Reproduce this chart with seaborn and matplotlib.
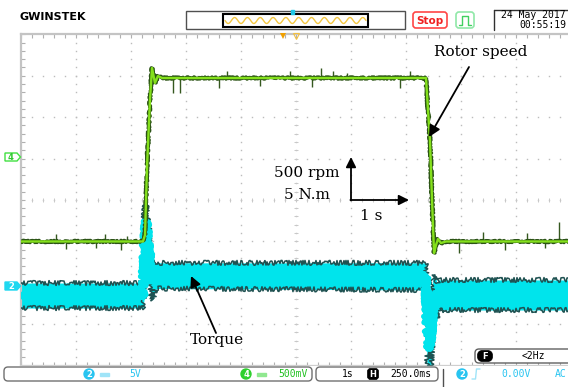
import numpy as np
import pandas as pd
import matplotlib
matplotlib.use("Agg")
import matplotlib.pyplot as plt
import seaborn as sns
from matplotlib.patches import FancyBboxPatch, Polygon, Rectangle, Circle

time_per_div = 1.0        # s/div, 10 divisions
speed_per_div = 500.0     # rpm/div (CH4)
torque_per_div = 5.0      # N.m/div (CH2)
ch4_offset_div = 5.04
ch2_offset_div = 1.92
trigger_time = 4.75
n_hdiv, n_vdiv = 10, 8

# CH4: rotor speed (rpm)
speed_t = [0.0, 2.218, 2.255, 2.291, 2.345, 2.382, 2.436, 2.49, 2.564,
           7.364, 7.40, 7.436, 7.473, 7.51, 7.545, 7.582, 7.636, 7.727, 10.0]
speed_rpm = [-1022, -1022, -944, -123, 686, 1073, 892, 976, 952,
             952, 566, 203, -521, -1161, -1065, -992, -1041, -1022, -1022]
# noise spikes on the speed trace (time, tip value)
spike_t = [0.636, 0.818, 1.364, 1.527, 1.818, 1.93,
           2.764, 2.891, 3.6, 3.745, 4.345, 4.89, 5.29, 5.455, 5.67, 5.93, 6.89, 7.07,
           7.96, 8.4, 8.8, 9.2, 9.53, 9.78]
spike_rpm = [-932, -1110, -1100, -932, -1120, -950,
             771, 771, 832, 1041, 855, 1041, 843, 1073, 1041, 1017, 832, 1041,
             -1160, -908, -1120, -920, -1100, -787]

# CH2: torque (N.m) noise band, upper and lower envelope
torque_t = [0.0, 2.218, 2.236, 2.273, 2.327, 2.364, 2.40, 2.436, 2.473, 2.527,
            7.364, 7.382, 7.418, 7.455, 7.491, 7.527, 7.564, 7.60, 7.655, 10.0]
torque_hi = [0.36, 0.36, 9.18, 10.03, 7.37, 3.75, 2.6, 2.7, 2.8, 2.8,
             2.8, -1.69, -5.31, -1.69, 0.97, 1.33, 0.36, 0.73, 0.73, 0.73]
torque_lo = [-2.66, -2.66, -1.69, 5.56, 1.93, -1.09, -1.69, -0.5, -0.3, -0.3,
             -0.48, -9.54, -9.9, -9.9, -5.92, -2.9, -3.86, -2.9, -2.9, -2.9]

# ---------------- figure ----------------
sns.set_theme(style="white")
plt.rcParams['font.family'] = ['DejaVu Sans']
W, H = 568, 387
fig = plt.figure(figsize=(W / 100, H / 100), dpi=100)
fig.patch.set_facecolor('white')

ax = fig.add_axes([21 / W, (H - 365.5) / H, 550 / W, 331.2 / H])
ax.set_xlim(0, n_hdiv)
ax.set_ylim(0, n_vdiv)
ax.set_facecolor('white')

# graticule
gcol = '#bcbcbc'
for xv in range(1, n_hdiv):
    ys = np.linspace(0, n_vdiv, n_vdiv * 5 + 1)
    ax.plot(np.full_like(ys, xv), ys, ls='none', marker='s', ms=1.0, mew=0, color=gcol, zorder=1)
for yv in range(1, n_vdiv):
    xs = np.linspace(0, n_hdiv, n_hdiv * 5 + 1)
    ax.plot(xs, np.full_like(xs, yv), ls='none', marker='s', ms=1.0, mew=0, color=gcol, zorder=1)
ys = np.linspace(0, n_vdiv, n_vdiv * 5 + 1)
ax.plot(np.full_like(ys, n_hdiv / 2), ys, ls='none', marker='_', ms=2.5, mew=0.7, color='#c8c8c8', zorder=1)
xs = np.linspace(0, n_hdiv, n_hdiv * 5 + 1)
ax.plot(xs, np.full_like(xs, n_vdiv / 2), ls='none', marker='|', ms=2.5, mew=0.7, color='#c8c8c8', zorder=1)

for s in ['left', 'top', 'bottom']:
    ax.spines[s].set_color('#c4c4c4')
    ax.spines[s].set_linewidth(1.6)
ax.spines['right'].set_visible(False)
ax.set_xticks(np.linspace(0, n_hdiv, n_hdiv * 5 + 1))
ax.set_yticks(np.linspace(0, n_vdiv, n_vdiv * 5 + 1))
ax.set_xticklabels([]); ax.set_yticklabels([])
ax.tick_params(axis='both', which='both', direction='in', length=3, width=0.8,
               color='#b0b0b0', top=True, bottom=True, left=True, right=False)

# torque band (CH2)
tq = pd.DataFrame({'t': torque_t,
                   'hi': ch2_offset_div + np.array(torque_hi) / torque_per_div,
                   'lo': ch2_offset_div + np.array(torque_lo) / torque_per_div})
ax.fill_between(tq['t'], tq['lo'], tq['hi'], color='#00e4ec', lw=0, zorder=2)
sns.lineplot(data=tq, x='t', y='hi', ax=ax, color='#1f5252', lw=1.1, estimator=None, sort=False, zorder=3)
ax.lines[-1].set_sketch_params(2.4, 1.0, 2)
sns.lineplot(data=tq, x='t', y='lo', ax=ax, color='#1f5252', lw=1.1, estimator=None, sort=False, zorder=3)
ax.lines[-1].set_sketch_params(2.4, 1.0, 2)
mid = (tq['hi'] + tq['lo']) / 2
sns.lineplot(x=tq['t'], y=mid, ax=ax, color='#00e4ec', lw=4, estimator=None, sort=False, zorder=3)
ax.lines[-1].set_sketch_params(3, 1.0, 2)

# speed trace (CH4)
sp = pd.DataFrame({'t': speed_t, 'div': ch4_offset_div + np.array(speed_rpm) / speed_per_div})
base = np.interp(spike_t, speed_t, sp['div'])
tip = ch4_offset_div + np.array(spike_rpm) / speed_per_div
ax.vlines(spike_t, base, tip, colors='#35581f', lw=1.0, zorder=4)
sns.lineplot(data=sp, x='t', y='div', ax=ax, color='#2c5416', lw=2.6, estimator=None, sort=False, zorder=4)
ax.lines[-1].set_sketch_params(1.0, 1.5, 2)
sns.lineplot(data=sp, x='t', y='div', ax=ax, color='#84e01c', lw=1.7, estimator=None, sort=False, zorder=5)
ax.set_xlabel(''); ax.set_ylabel('')

# ---------------- overlay in pixel coords ----------------
ov = fig.add_axes([0, 0, 1, 1])
ov.set_xlim(0, W); ov.set_ylim(H, 0)
ov.axis('off'); ov.patch.set_alpha(0); ov.set_zorder(5)
mono = 'DejaVu Sans Mono'

# top bar
ov.text(20, 17.5, 'GWINSTEK', fontsize=8, fontweight='bold', color='black', ha='left', va='center')
ov.add_patch(Rectangle((186, 11), 219, 18, ec='#505050', fc='white', lw=1))
ov.add_patch(Rectangle((223, 13.5), 145, 13.5, ec='black', fc='white', lw=1.5))
wx = np.linspace(225, 366, 400)
ov.plot(wx, 20.5 + 3 * np.sin(2 * np.pi * 11 * (wx - 225) / 141), color='#f3c640', lw=1)
ov.add_patch(Rectangle((290.5, 9.5), 3, 4, color='#20c8e8'))
ov.add_patch(FancyBboxPatch((413, 12), 34, 16, boxstyle='round,pad=0,rounding_size=3',
                            ec='#ff4646', fc='white', lw=1.2))
ov.text(430, 20.5, 'Stop', color='#f02020', fontsize=7.5, fontweight='bold', ha='center', va='center')
ov.add_patch(FancyBboxPatch((456, 12), 18, 16, boxstyle='round,pad=0,rounding_size=3',
                            ec='#90e8a8', fc='white', lw=1.2))
ov.plot([459, 462, 462, 468, 468, 471], [25, 25, 16, 16, 25, 25], color='#40d060', lw=1)
ov.plot([494, 494], [30, 10], color='#303030', lw=1)
ov.plot([494, 568], [10, 10], color='#303030', lw=1)
ov.text(566, 15.5, '24 May 2017', family=mono, fontsize=7, ha='right', va='center', color='black')
ov.text(566, 25.5, '00:55:19', family=mono, fontsize=7, ha='right', va='center', color='black')

# trigger / H position markers
ov.plot(283, 36, marker='v', ms=5, color='#f0a000', mew=0)
ov.plot(296, 36, marker='v', ms=5, mfc='none', mec='#f3c040', mew=0.8)

# channel markers on the left
ov.add_patch(Polygon([(5, 153), (17, 153), (20.5, 157), (17, 161), (5, 161)], closed=True,
                     ec='#40e040', fc='white', lw=1))
ov.text(11, 157.3, '4', color='#30c830', fontsize=6, fontweight='bold', ha='center', va='center')
ov.add_patch(Polygon([(5, 282), (17, 282), (20.5, 286), (17, 290), (5, 290)], closed=True,
                     ec='#20d8f0', fc='#20d8f0', lw=1))
ov.text(11, 286.3, '2', color='white', fontsize=6, fontweight='bold', ha='center', va='center')

# annotations
serif = 'DejaVu Serif'
ov.text(481, 52, 'Rotor speed', family=serif, fontsize=11, ha='center', va='center', color='black')
ov.annotate('', xy=(429, 137), xytext=(469, 67),
            arrowprops=dict(arrowstyle='-|>', color='black', lw=1.3, mutation_scale=17, shrinkA=0, shrinkB=0))
ov.text(217, 340, 'Torque', family=serif, fontsize=11, ha='center', va='center', color='black')
ov.annotate('', xy=(191, 276), xytext=(216, 333),
            arrowprops=dict(arrowstyle='-|>', color='black', lw=1.3, mutation_scale=16, shrinkA=0, shrinkB=0))
ov.text(340, 173, '500 rpm', family=serif, fontsize=11, ha='right', va='center', color='black')
ov.text(307, 195, '5 N.m', family=serif, fontsize=11, ha='center', va='center', color='black')
ov.text(371, 216, '1 s', family=serif, fontsize=11, ha='center', va='center', color='black')
ov.annotate('', xy=(351, 157), xytext=(351, 200.5),
            arrowprops=dict(arrowstyle='-|>', color='black', lw=1.3, mutation_scale=15, shrinkA=0, shrinkB=0))
ov.annotate('', xy=(409, 200), xytext=(350.4, 200),
            arrowprops=dict(arrowstyle='-|>', color='black', lw=1.3, mutation_scale=15, shrinkA=0, shrinkB=0))

# filter box
ov.add_patch(FancyBboxPatch((475, 349), 100, 14, boxstyle='round,pad=0,rounding_size=4',
                            ec='#606060', fc='white', lw=1))
ov.add_patch(FancyBboxPatch((477.5, 350.5), 15, 11, boxstyle='round,pad=0,rounding_size=5',
                            ec='black', fc='black', lw=0.5))
ov.text(485, 356.3, 'F', color='white', fontsize=6, fontweight='bold', ha='center', va='center')
ov.text(533, 356, '<2Hz', family=mono, fontsize=7, ha='center', va='center', color='black')

# bottom bar
ov.add_patch(Rectangle((0, 365.5), W, H - 365.5, color='white', zorder=0))
ov.add_patch(FancyBboxPatch((4, 367), 308, 14, boxstyle='round,pad=0,rounding_size=4',
                            ec='#707070', fc='white', lw=1))
ov.add_patch(FancyBboxPatch((316, 367), 122, 14, boxstyle='round,pad=0,rounding_size=4',
                            ec='#707070', fc='white', lw=1))
cy, gr = '#28c4f0', '#2ed02e'
ov.add_patch(Circle((89, 374), 5, color=cy))
ov.text(89, 374.3, '2', color='white', fontsize=6, fontweight='bold', ha='center', va='center')
ov.add_patch(Rectangle((100, 372.5), 9, 3, color='#a0e4f8'))
ov.text(135, 374, '5V', family=mono, fontsize=7, color=cy, ha='center', va='center')
ov.add_patch(Circle((246, 374), 5, color=gr))
ov.text(246, 374.3, '4', color='white', fontsize=6, fontweight='bold', ha='center', va='center')
ov.add_patch(Rectangle((257, 372.5), 9, 3, color='#90e890'))
ov.text(293, 374, '500mV', family=mono, fontsize=7, color='#20c020', ha='center', va='center')
ov.text(348, 374, '1s', family=mono, fontsize=7, color='black', ha='center', va='center')
ov.add_patch(FancyBboxPatch((367.5, 368.5), 11, 11, boxstyle='round,pad=0,rounding_size=3',
                            ec='black', fc='black', lw=0.5))
ov.text(373, 374.3, 'H', color='white', fontsize=6, fontweight='bold', ha='center', va='center')
ov.text(411, 374, '250.0ms', family=mono, fontsize=7, color='black', ha='center', va='center')
ov.plot([443, 443], [369, 387], color='#505050', lw=1)
ov.add_patch(Circle((462, 374), 5, color=cy))
ov.text(462, 374.3, '2', color='white', fontsize=6, fontweight='bold', ha='center', va='center')
ov.plot([472, 475.5, 476.5, 480], [379, 379, 369, 369], color='#a0e4f8', lw=1)
ov.text(516, 374, '0.00V', family=mono, fontsize=7, color=cy, ha='center', va='center')
ov.text(555, 374, 'AC', family=mono, fontsize=7, color=cy, ha='left', va='center')

fig.savefig('out.png', dpi=100, facecolor='white')
